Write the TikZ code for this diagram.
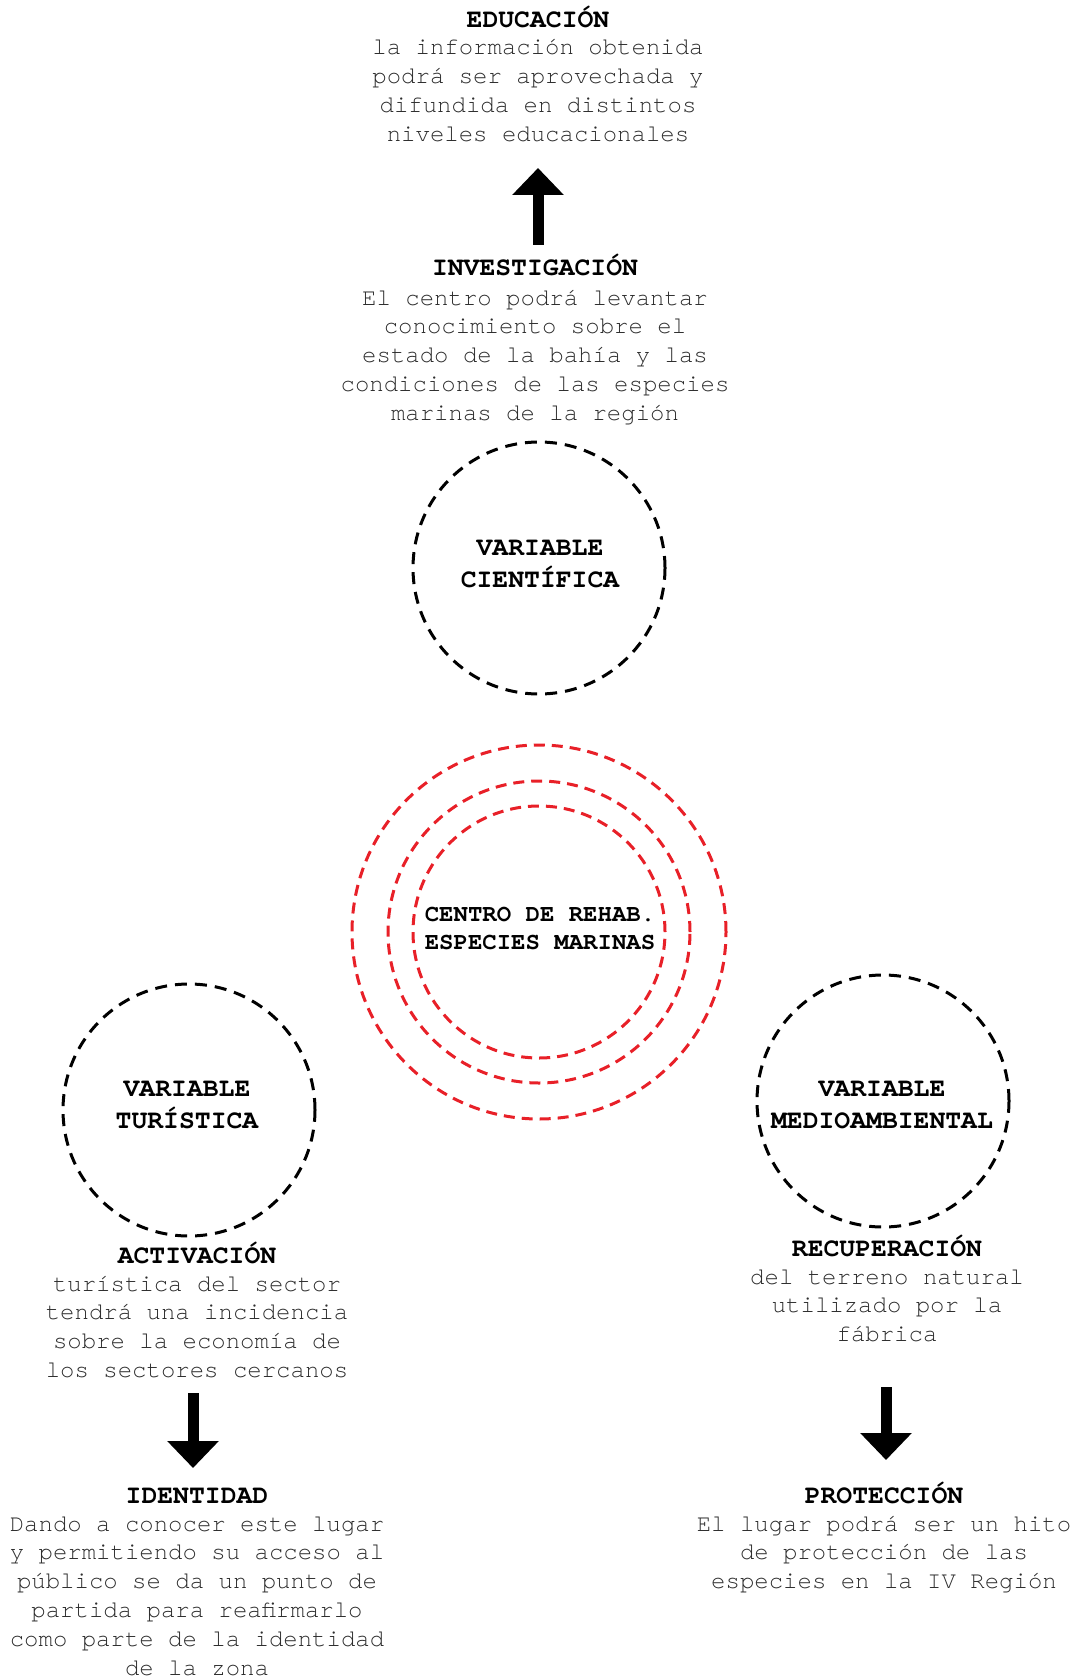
\documentclass[tikz,border=0pt]{standalone}
\usepackage{fontspec}
\setmainfont{TeX Gyre Cursor}
\usetikzlibrary{arrows.meta}
\definecolor{ringred}{RGB}{232,32,40}
\definecolor{bodygray}{RGB}{45,45,45}
\tikzset{
  head/.style={font=\bfseries\fontsize{26.4}{31}\selectfont, inner sep=0pt, anchor=base},
  body/.style={font=\fontsize{24}{28.8}\selectfont, text=bodygray, align=center, inner sep=0pt, anchor=base},
  vartext/.style={font=\bfseries\fontsize{26.4}{32}\selectfont, align=center, inner sep=0pt, anchor=base},
  centertext/.style={font=\bfseries\fontsize{24}{28}\selectfont, align=center, inner sep=0pt, anchor=base},
  varcircle/.style={circle, draw=black, line width=3pt, dash pattern=on 12pt off 8pt, minimum size=252pt, inner sep=0pt},
  ring/.style={circle, draw=ringred, line width=3pt, dash pattern=on 11pt off 7pt, inner sep=0pt},
  bigarrow/.style={line width=11pt, -{Triangle[width=50pt,length=27pt]}},
}
\begin{document}
\begin{tikzpicture}[x=1pt,y=-1pt]
\useasboundingbox (0,0) rectangle (1077,1680);
% top
\node[head] (edu) at (538,28) {EDUCACIÓN};
\node[body] (edut) at (538,141.4) {la información obtenida\\podrá ser aprovechada y\\difundida en distintos\\niveles educacionales};
\node[head] (inv) at (535,276) {INVESTIGACIÓN};
\node[body] (invt) at (535,420.2) {El centro podrá levantar\\conocimiento sobre el\\estado de la bahía y las\\condiciones de las especies\\marinas de la región};
\coordinate (a1s) at (538,245);
\coordinate (a1e) at (538,168);
\draw[bigarrow] (a1s) -- (a1e);
\node[varcircle] (cien) at (539,568) {};
\node[vartext] (cient) at (540,587) {VARIABLE\\CIENTÍFICA};
% centre rings
\node[ring, minimum size=374pt] (r1) at (539,932) {};
\node[ring, minimum size=302pt] (r2) at (539,932) {};
\node[ring, minimum size=252pt] (r3) at (539,932) {};
\node[centertext] (crt) at (540,949) {CENTRO DE REHAB.\\ESPECIES MARINAS};
% left
\node[varcircle] (tur) at (189,1110) {};
\node[vartext] (turt) at (187,1128) {VARIABLE\\TURÍSTICA};
\node[head] (act) at (197,1263) {ACTIVACIÓN};
\node[body] (actt) at (197,1377.4) {turística del sector\\tendrá una incidencia\\sobre la economía de\\los sectores cercanos};
\coordinate (a2s) at (193,1393);
\coordinate (a2e) at (193,1468);
\draw[bigarrow] (a2s) -- (a2e);
\node[head] (ide) at (197,1503) {IDENTIDAD};
\node[body] (idet) at (197,1675) {Dando a conocer este lugar\\y permitiendo su acceso al\\público se da un punto de\\partida para reafirmarlo\\como parte de la identidad\\de la zona};
% right
\node[varcircle] (med) at (883,1101) {};
\node[vartext] (medt) at (882,1128) {VARIABLE\\MEDIOAMBIENTAL};
\node[head] (rec) at (887,1256) {RECUPERACIÓN};
\node[body] (rect) at (887,1341.6) {del terreno natural\\utilizado por la\\fábrica};
\coordinate (a3s) at (886,1387);
\coordinate (a3e) at (886,1460);
\draw[bigarrow] (a3s) -- (a3e);
\node[head] (pro) at (884,1503) {PROTECCIÓN};
\node[body] (prot) at (884,1588.6) {El lugar podrá ser un hito\\de protección de las\\especies en la IV Región};
\end{tikzpicture}
\end{document}
